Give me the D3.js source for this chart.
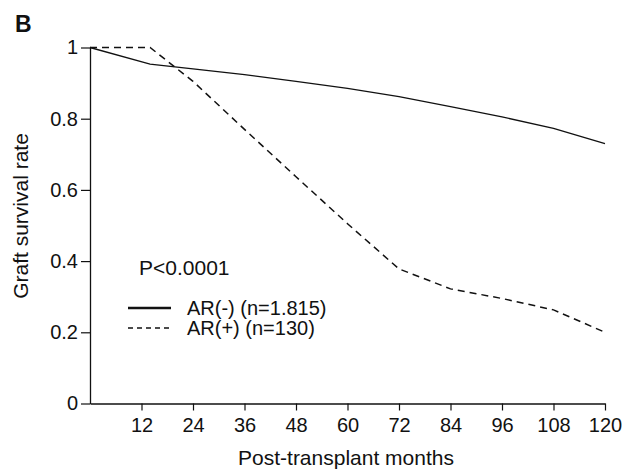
<!DOCTYPE html>
<html>
<head>
<meta charset="utf-8">
<script src="https://cdn.jsdelivr.net/npm/d3@7"></script>
<style>
  body { margin: 0; background: #fff; }
  svg text { font-family: "Liberation Sans", Arial, sans-serif; fill: #111; }
</style>
</head>
<body>
<svg id="chart" width="632" height="473"></svg>
<script>
// data
const months = [0, 14, 24, 36, 48, 60, 72, 84, 96, 108, 120];
const arNeg = [1.0, 0.953, 0.94, 0.924, 0.905, 0.885, 0.862, 0.834, 0.805, 0.773, 0.73];
const arPos = [1.0, 1.0, 0.905, 0.77, 0.637, 0.505, 0.378, 0.322, 0.295, 0.263, 0.2];
const xTicks = [12, 24, 36, 48, 60, 72, 84, 96, 108, 120];
const yTicks = [0, 0.2, 0.4, 0.6, 0.8, 1];
const legendLabels = ["AR(-) (n=1.815)", "AR(+) (n=130)"];

const svg = d3.select("#chart");

const x = d3.scaleLinear().domain([0, 120]).range([90, 605]);
const y = d3.scaleLinear().domain([0, 1]).range([403.5, 47.5]);

// axes
const xAxis = svg.append("g")
  .attr("transform", `translate(0,${y(0)})`)
  .call(d3.axisBottom(x).tickValues(xTicks).tickSize(7).tickPadding(7).tickSizeOuter(0));

const yAxis = svg.append("g")
  .attr("transform", `translate(${x(0)},0)`)
  .call(d3.axisLeft(y).tickValues(yTicks).tickSize(9).tickPadding(3).tickSizeOuter(0)
    .tickFormat(d => d === 0 || d === 1 ? d3.format("d")(d) : d3.format(".1f")(d)));

[xAxis, yAxis].forEach(a => {
  a.select(".domain").attr("stroke", "#111").attr("stroke-width", 1.3);
  a.selectAll(".tick line").attr("stroke", "#111").attr("stroke-width", 1.2);
  a.selectAll(".tick text").attr("font-size", 20).attr("fill", "#111")
    .style("font-family", "'Liberation Sans', Arial, sans-serif");
});

// axis titles
svg.append("text")
  .attr("x", 346).attr("y", 465)
  .attr("text-anchor", "middle")
  .attr("font-size", 21)
  .text("Post-transplant months");

svg.append("text")
  .attr("transform", "translate(28,216) rotate(-90)")
  .attr("text-anchor", "middle")
  .attr("font-size", 21)
  .text("Graft survival rate");

svg.append("text")
  .attr("x", 15).attr("y", 32)
  .attr("font-size", 23)
  .attr("font-weight", "bold")
  .text("B");

// curves
const line = d3.line()
  .x(d => x(d[0]))
  .y(d => y(d[1]));

svg.append("path")
  .datum(months.map((m, i) => [m, arNeg[i]]))
  .attr("d", line)
  .attr("fill", "none")
  .attr("stroke", "#111")
  .attr("stroke-width", 1.3);

svg.append("path")
  .datum(months.map((m, i) => [m, arPos[i]]))
  .attr("d", line)
  .attr("fill", "none")
  .attr("stroke", "#111")
  .attr("stroke-width", 1.5)
  .attr("stroke-dasharray", "7,5");

// legend
svg.append("text")
  .attr("x", 139).attr("y", 275)
  .attr("font-size", 21)
  .text("P<0.0001");

const legend = svg.append("g");
legendLabels.forEach((lab, i) => {
  const ly = 308 + i * 20;
  legend.append("line")
    .attr("x1", 128).attr("x2", 171)
    .attr("y1", ly).attr("y2", ly)
    .attr("stroke", "#111")
    .attr("stroke-width", i === 0 ? 2.6 : 1.3)
    .attr("stroke-dasharray", i === 0 ? null : "5,4");
  legend.append("text")
    .attr("x", 187).attr("y", ly + 7)
    .attr("font-size", 20)
    .text(lab);
});
</script>
</body>
</html>
